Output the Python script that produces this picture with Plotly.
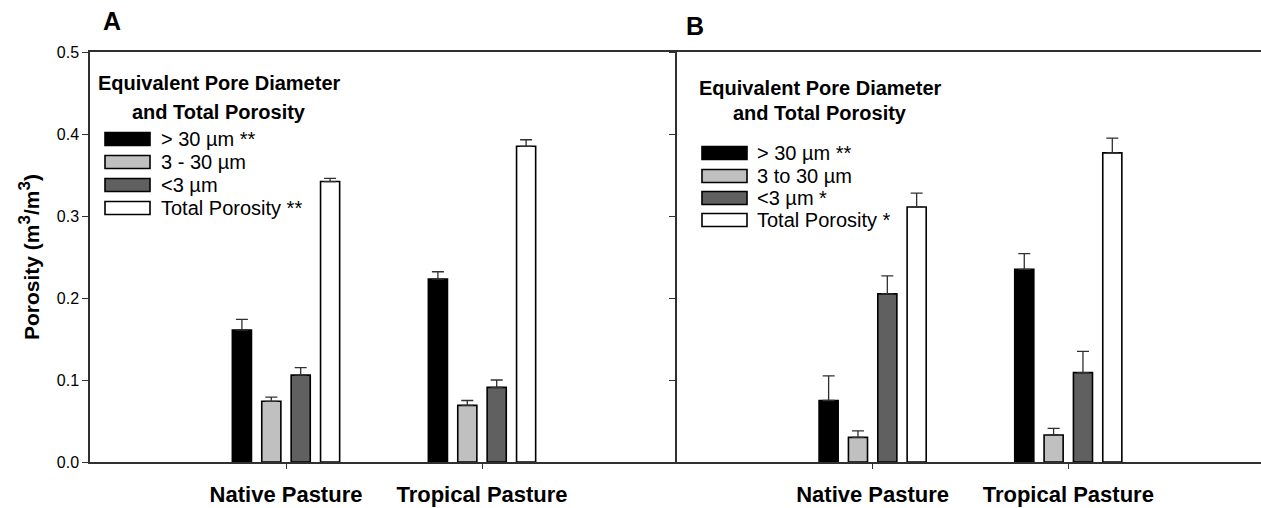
import plotly.graph_objects as go

# ---- data -------------------------------------------------------------
categories = ["Native Pasture", "Tropical Pasture"]
series_names = ["> 30 µm", "3 - 30 µm", "<3 µm", "Total Porosity"]

# Panel A: mean porosity (m3/m3) and upper standard error
a_gt30 = [0.161, 0.223]
a_3to30 = [0.074, 0.069]
a_lt3 = [0.106, 0.091]
a_total = [0.342, 0.385]
a_gt30_err = [0.013, 0.009]
a_3to30_err = [0.005, 0.006]
a_lt3_err = [0.009, 0.009]
a_total_err = [0.004, 0.008]

# Panel B
b_gt30 = [0.075, 0.235]
b_3to30 = [0.030, 0.033]
b_lt3 = [0.205, 0.109]
b_total = [0.311, 0.377]
b_gt30_err = [0.030, 0.019]
b_3to30_err = [0.008, 0.008]
b_lt3_err = [0.022, 0.026]
b_total_err = [0.017, 0.018]

legend_a = ["> 30 µm **", "3 - 30 µm", "<3 µm", "Total Porosity **"]
legend_b = ["> 30 µm **", "3 to 30 µm", "<3 µm *", "Total Porosity *"]
legend_title = ["Equivalent Pore Diameter", "and Total Porosity"]

y_ticks = [0.0, 0.1, 0.2, 0.3, 0.4, 0.5]
y_ticktext = ["0.0", "0.1", "0.2", "0.3", "0.4", "0.5"]

# ---- styling ------------------------------------------------------------
W, H = 1261, 508
FONT = "Liberation Sans, Arial, sans-serif"
fills = ["#000000", "#c0c0c0", "#606060", "#ffffff"]
AX = "#303030"


def px(x):
    return x / W


def py(y):
    return 1 - y / H


fig = go.Figure()

panels = [
    ("x", "y", [a_gt30, a_3to30, a_lt3, a_total],
     [a_gt30_err, a_3to30_err, a_lt3_err, a_total_err]),
    ("x2", "y2", [b_gt30, b_3to30, b_lt3, b_total],
     [b_gt30_err, b_3to30_err, b_lt3_err, b_total_err]),
]

for xa, ya, vals, errs in panels:
    for name, v, e, c in zip(series_names, vals, errs, fills):
        fig.add_trace(go.Bar(
            x=categories, y=v, name=name, xaxis=xa, yaxis=ya,
            marker=dict(color=c, line=dict(color="#000000", width=1.6)),
            error_y=dict(type="data", array=e, arrayminus=[0] * len(e),
                         symmetric=False, color=AX, thickness=1.3, width=6),
            showlegend=False,
        ))

# plot area in pixels
x0_a, x1_a = 90, 678
x0_b, x1_b = 677, 1261
y_top, y_bot = 52, 462

common_x = dict(
    type="category", showline=True, linecolor=AX, linewidth=1.5, mirror=True,
    ticks="outside", ticklen=5, tickcolor=AX, showgrid=False, zeroline=False,
    tickfont=dict(family=FONT, size=22, color="#000000", weight="bold"),
    ticklabelstandoff=7, automargin=False,
)
common_y = dict(
    range=[0, 0.5], tickvals=y_ticks, ticktext=y_ticktext, showline=True,
    linecolor=AX, linewidth=1.5, ticks="outside", ticklen=6, tickcolor=AX,
    showgrid=False, zeroline=False, automargin=False,
    tickfont=dict(family=FONT, size=16, color="#000000"),
    domain=[py(y_bot), py(y_top)],
)

fig.update_layout(
    width=W, height=H, margin=dict(l=0, r=0, t=0, b=0),
    paper_bgcolor="white", plot_bgcolor="white",
    barmode="group", bargap=0.4, bargroupgap=0.35,
    xaxis=dict(common_x, domain=[px(x0_a), px(x1_a)], range=[-1, 2],
               anchor="y"),
    yaxis=dict(common_y, anchor="x"),
    xaxis2=dict(common_x, domain=[px(x0_b), px(x1_b)], range=[-1, 1.985],
                anchor="y2"),
    yaxis2=dict(common_y, anchor="x2", showticklabels=False),
)

annotations = []
shapes = []


def text(x, y, s, size, bold=False, xanchor="center", angle=0):
    annotations.append(dict(
        x=px(x), y=py(y), xref="paper", yref="paper", text=s,
        showarrow=False, xanchor=xanchor, yanchor="middle", textangle=angle,
        font=dict(family=FONT, size=size, color="#000000",
                  weight="bold" if bold else "normal"),
    ))


# panel letters and shared y title
text(112, 21, "A", 25, bold=True)
text(695, 26, "B", 25, bold=True)
text(29, 257,
     "Porosity (m<sup><span style='font-size:17px'>3</span></sup>/"
     "m<sup><span style='font-size:17px'>3</span></sup>)",
     21, bold=True, angle=-90)


def legend(title_x, title_ys, sw_x0, sw_x1, text_x, item_ys, labels):
    for ty, line in zip(title_ys, legend_title):
        text(title_x, ty, line, 20, bold=True)
    for iy, lab, c in zip(item_ys, labels, fills):
        shapes.append(dict(
            type="rect", xref="paper", yref="paper",
            x0=px(sw_x0), x1=px(sw_x1), y0=py(iy + 6.5), y1=py(iy - 6.5),
            fillcolor=c, line=dict(color="#000000", width=1.6),
        ))
        text(text_x, iy, lab, 20, xanchor="left")


legend(219, [83, 112], 105, 150, 159, [139, 162, 185, 208], legend_a)
legend(820, [88, 113], 702, 747, 755, [153, 176, 198, 220], legend_b)

fig.update_layout(annotations=annotations, shapes=shapes)

fig.write_html(
    "out.html",
    post_script="document.body.style.margin='0';",
)
